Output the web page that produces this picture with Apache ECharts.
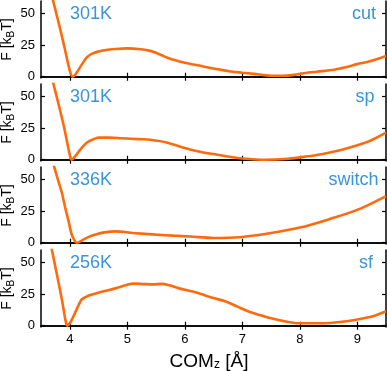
<!DOCTYPE html>
<html>
<head>
<meta charset="utf-8">
<script src="https://cdn.jsdelivr.net/npm/echarts@6/dist/echarts.min.js"></script>
<style>html,body{margin:0;padding:0;background:#fff}#c{width:387px;height:371px}</style>
</head>
<body>
<div id="c"></div>
<script>
// ---- data ----
const tempLabels = ['301K', '301K', '336K', '256K'];
const methodLabels = ['cut', 'sp', 'switch', 'sf'];
const yTicks = [0, 25, 50];
const xTicks = [4, 5, 6, 7, 8, 9];

const cutX = [3.5,3.6,3.7,3.8,3.9,4.0,4.05,4.1,4.2,4.3,4.4,4.5,4.6,4.8,5.0,5.2,5.4,5.5,5.6,5.7,5.8,6.0,6.2,6.5,6.8,7.0,7.2,7.5,7.7,7.9,8.1,8.3,8.6,8.8,9.0,9.2,9.5];
const cutY = [98,80,62,44,25,5,0,2,9,15.5,18.5,20,21,22,22.5,22,20.5,19,17,15,13.5,11,9.3,6.5,4.2,3.2,2.3,0.8,0.8,1.5,3,4,5.5,7.5,10,12,16.5];

const spX = [3.5,3.6,3.7,3.8,3.9,4.0,4.03,4.1,4.2,4.3,4.4,4.5,4.7,4.9,5.2,5.4,5.7,6.0,6.2,6.5,6.8,7.0,7.4,7.8,8.1,8.4,8.7,9.0,9.2,9.5];
const spY = [98,80,63,45,26,4,0,3,9,13.7,16,17.5,17.5,17,16.3,15.8,13.5,9.2,7,4.5,2.2,1,0,0.8,2.5,4.6,7.5,11.5,14.5,21.5];

const switchX = [3.5,3.6,3.7,3.8,3.86,3.92,3.98,4.03,4.08,4.12,4.2,4.32,4.45,4.6,4.8,5.1,5.5,5.8,6.1,6.5,7.0,7.5,8.0,8.5,9.0,9.5];
const switchY = [100,82,65,49,40,28,17,7,2,0,1.5,4.4,6.5,8.2,9,7.7,6.4,5.6,4.9,3.8,4.6,7.7,12,18.5,26,37];

const sfX = [3.5,3.6,3.69,3.78,3.87,3.93,3.96,4.0,4.05,4.1,4.15,4.21,4.32,4.45,4.61,4.79,5.0,5.1,5.3,5.45,5.6,5.75,5.9,6.2,6.5,6.7,6.9,7.1,7.3,7.5,7.8,8.0,8.4,8.7,9.0,9.3,9.5];
const sfY = [105,82,60,40,19,3.4,0,2,6,11,16,21,23.7,25.5,27.5,29.6,32.5,33.4,33,32.8,33.2,31.8,29.6,26.3,21.9,19.4,15.5,11.5,8.5,5.9,3,2,2,3,5,8,11.5];

const seriesX = [cutX, spX, switchX, sfX];
const seriesY = [cutY, spY, switchY, sfY];

// ---- layout ----
const gridTops = [1, 84, 167, 250];
const gridH = 77;
const rightLabelOffsets = [11, 12.5, 8.5, 14];
const FONT = 'Liberation Sans';
const ORANGE = '#ff6a0d';
const BLUE = '#3a94da';

const grids = [], xAxes = [], yAxes = [], series = [], titles = [];
gridTops.forEach((top, i) => {
  grids.push({ left: 41, right: 1, top: top, height: gridH, containLabel: false, outerBoundsMode: 'none' });
  const last = i === gridTops.length - 1;
  const axLine = { show: true, lineStyle: { color: '#000', width: 1.5 } };
  // bottom x
  xAxes.push({
    type: 'value', gridIndex: i, position: 'bottom', min: 3.5, max: 9.5,
    axisLine: axLine,
    axisTick: { show: true, inside: true, length: 4, customValues: xTicks, lineStyle: { color: '#000', width: 1.2 } },
    axisLabel: { show: last, customValues: xTicks, color: '#000', fontFamily: FONT, fontSize: 13, margin: 6 },
    splitLine: { show: false },
    name: last ? 'COM{sub|z} [Å]' : '',
    nameLocation: 'middle', nameGap: 25, nameMoveOverlap: false,
    nameTextStyle: { color: '#000', fontFamily: FONT, fontSize: 19, padding: [0, 9, 0, 0],
      rich: { sub: { fontSize: 12, fontFamily: FONT, color: '#000', verticalAlign: 'bottom', lineHeight: 12 } } }
  });
  // top x
  xAxes.push({
    type: 'value', gridIndex: i, position: 'top', min: 3.5, max: 9.5,
    axisLine: axLine,
    axisTick: { show: true, inside: true, length: 4, customValues: xTicks, lineStyle: { color: '#000', width: 1.2 } },
    axisLabel: { show: false }, splitLine: { show: false }
  });
  // left y
  yAxes.push({
    type: 'value', gridIndex: i, position: 'left', min: -1, max: 60,
    axisLine: axLine,
    axisTick: { show: true, inside: true, length: 4, customValues: yTicks, lineStyle: { color: '#000', width: 1.2 } },
    axisLabel: { show: true, customValues: yTicks, color: '#000', fontFamily: FONT, fontSize: 13, margin: 6 },
    splitLine: { show: false },
    name: 'F [k{sub|B}T]', nameLocation: 'middle', nameRotate: 90, nameGap: 25, nameMoveOverlap: false,
    nameTextStyle: { color: '#000', fontFamily: FONT, fontSize: 14, lineHeight: 18,
      rich: { sub: { fontSize: 10, fontFamily: FONT, color: '#000', verticalAlign: 'bottom', lineHeight: 10 } } }
  });
  // right y
  yAxes.push({
    type: 'value', gridIndex: i, position: 'right', min: -1, max: 60,
    axisLine: axLine,
    axisTick: { show: true, inside: true, length: 4, customValues: yTicks, lineStyle: { color: '#000', width: 1.2 } },
    axisLabel: { show: false }, splitLine: { show: false }
  });
  series.push({
    type: 'line', xAxisIndex: 2 * i, yAxisIndex: 2 * i, clip: true,
    data: seriesX[i].map((x, k) => [x, seriesY[i][k]]),
    smooth: 0.3, showSymbol: false, symbol: 'none',
    lineStyle: { color: ORANGE, width: 2.6 }
  });
  titles.push({ text: tempLabels[i], left: 70, top: top + 4, padding: 0,
    textStyle: { color: BLUE, fontFamily: FONT, fontSize: 18, fontWeight: 'normal' } });
  titles.push({ text: methodLabels[i], right: rightLabelOffsets[i], top: top + 4, padding: 0,
    textStyle: { color: BLUE, fontFamily: FONT, fontSize: 18, fontWeight: 'normal' } });
});

const chart = echarts.init(document.getElementById('c'), null, { renderer: 'canvas' });
chart.setOption({
  animation: false,
  backgroundColor: '#fff',
  title: titles,
  grid: grids,
  xAxis: xAxes,
  yAxis: yAxes,
  series: series
});
</script>
</body>
</html>
